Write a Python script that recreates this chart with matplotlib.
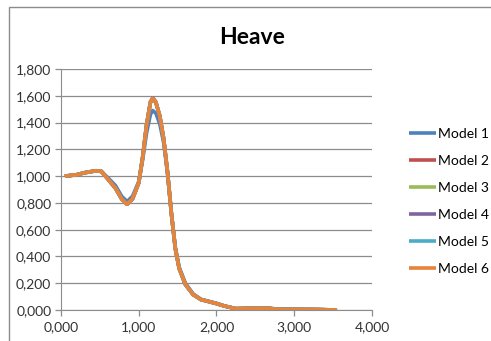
import matplotlib.pyplot as plt
from matplotlib.patches import Rectangle
from matplotlib.ticker import FuncFormatter

plt.rcParams['font.family'] = ['Lato', 'DejaVu Sans']

freq = [0.05, 0.2, 0.3, 0.45, 0.52, 0.6, 0.7, 0.78, 0.85, 0.92, 1.0, 1.05, 1.1, 1.15, 1.18,
        1.22, 1.27, 1.32, 1.37, 1.42, 1.47, 1.52, 1.6, 1.7, 1.8, 1.9, 2.0, 2.1, 2.25,
        2.5, 2.65, 2.8, 3.0, 3.3, 3.55]

model1 = [1.0, 1.01, 1.025, 1.04, 1.035, 0.99, 0.93, 0.85, 0.81, 0.85, 0.96, 1.12, 1.32, 1.46, 1.49,
          1.47, 1.39, 1.25, 1.02, 0.72, 0.47, 0.32, 0.2, 0.12, 0.08, 0.065, 0.05, 0.03, 0.01,
          0.015, 0.015, 0.006, 0.005, 0.004, 0.0]
model6 = [1.0, 1.01, 1.025, 1.04, 1.035, 0.98, 0.91, 0.83, 0.79, 0.83, 0.95, 1.14, 1.38, 1.55, 1.58,
          1.55, 1.45, 1.28, 1.03, 0.72, 0.46, 0.31, 0.19, 0.115, 0.078, 0.063, 0.048, 0.03, 0.01,
          0.013, 0.013, 0.005, 0.004, 0.003, 0.0]
model2 = [v + (0.005 if 1.1 < f < 1.25 else 0.0) for f, v in zip(freq, model6)]
model3 = list(model6)
model4 = list(model6)
model5 = list(model6)

labels = ['Model 1', 'Model 2', 'Model 3', 'Model 4', 'Model 5', 'Model 6']
series = [model1, model2, model3, model4, model5, model6]
colors = ['#4F81BD', '#C0504D', '#9BBB59', '#8064A2', '#4BACC6', '#E8843A']

fig = plt.figure(figsize=(4.91, 3.41), dpi=100)
fig.patches.append(Rectangle((9 / 491, -0.1), 1.2, 1.1 - 7 / 341, transform=fig.transFigure,
                             fill=False, edgecolor='#8C8C8C', linewidth=1.0))
ax = fig.add_axes([61 / 491, 1 - 310 / 341, 311 / 491, 241 / 341])

for lab, vals, col in zip(labels, series, colors):
    ax.plot(freq, vals, color=col, linewidth=2.6, label=lab, solid_capstyle='butt')

ax.set_xlim(0, 4)
ax.set_ylim(0, 1.8)
ax.set_xticks([0, 1, 2, 3, 4])
ax.set_yticks([i * 0.2 for i in range(10)])
fmt = FuncFormatter(lambda v, p: f'{v:.3f}'.replace('.', ','))
ax.xaxis.set_major_formatter(fmt)
ax.yaxis.set_major_formatter(fmt)
ax.grid(axis='y', color='#8C8C8C', linewidth=0.9)
ax.set_axisbelow(True)
for s in ['top', 'right']:
    ax.spines[s].set_visible(False)
ax.spines['left'].set_color('#8C8C8C')
ax.spines['bottom'].set_color('#8C8C8C')
ax.tick_params(axis='both', colors='#8C8C8C', labelcolor='#333333', labelsize=10, length=4, width=0.9)
ax.tick_params(axis='y', pad=3)
ax.tick_params(axis='x', pad=4)

fig.text(252 / 491, 1 - 37 / 341, 'Heave', ha='center', va='center', fontsize=16.5, fontweight='bold')

ax.legend(loc='center left', bbox_to_anchor=(1.1, 0.45), frameon=False, fontsize=10,
          handlelength=2.0, handletextpad=0.1, labelspacing=1.08, borderaxespad=0)

fig.savefig('out.png', dpi=100)
